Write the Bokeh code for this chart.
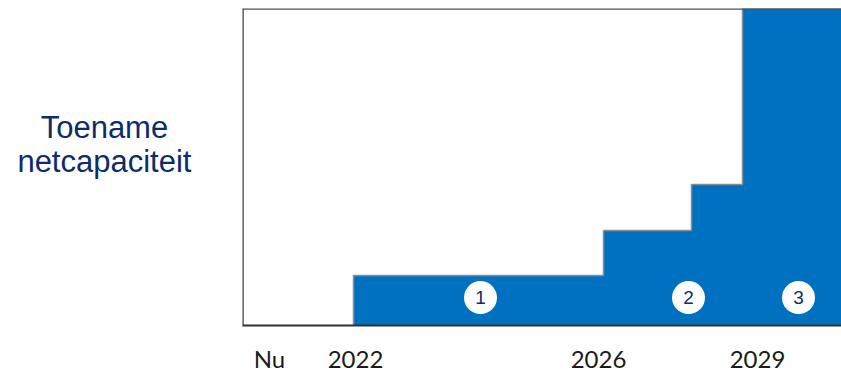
from bokeh.plotting import figure
from bokeh.layouts import row
from bokeh.models import Range1d, FixedTicker, Span
from bokeh.core.properties import value
from bokeh.embed import file_html
from bokeh.resources import INLINE

# Step edges (x, arbitrary time units) and capacity level (fraction of max)
step_x = [1.11, 3.61, 4.49, 5.00, 5.99]
step_level = [0.158, 0.30, 0.445, 1.0, 1.0]

# Numbered phase markers
marker_x = [2.38, 4.46, 5.56]
marker_y = [0.088, 0.088, 0.088]
marker_text = ["1", "2", "3"]

# X tick labels
tick_pos = [0.27, 1.13, 3.56, 5.15]
tick_labels = ["Nu", "2022", "2026", "2029"]

y_label_lines = ["Toename", "netcapaciteit"]

BLUE = "#0070C0"
NAVY = "#0D2C6C"

# ---- left panel with the horizontal y-axis title ----
left = figure(width=240, height=375, output_backend="svg", toolbar_location=None,
              x_range=Range1d(0, 1), y_range=Range1d(0, 1),
              x_axis_type=None, y_axis_type=None,
              min_border=0)
left.outline_line_color = None
left.grid.visible = False
left.text(x=[0.433, 0.433], y=[0.625, 0.518], text=y_label_lines,
          text_align="center", text_baseline="middle",
          text_font=value("Liberation Sans"), text_font_size="31px",
          text_color=NAVY)

# ---- main chart ----
p = figure(width=601, height=375, output_backend="svg", toolbar_location=None,
           x_range=Range1d(0, 5.99), y_range=Range1d(0, 1.0),
           min_border_left=2, min_border_right=0, min_border_top=8, min_border_bottom=0)
p.outline_line_color = None
p.grid.visible = False
p.yaxis.visible = False
p.background_fill_color = "white"

p.varea_step(x=step_x, y1=[0] * len(step_x), y2=step_level, step_mode="after",
             fill_color=BLUE)
p.step(x=[step_x[0]] + step_x, y=[0] + step_level, mode="after",
       line_color="#8c8c8c", line_width=1.5)

p.scatter(x=marker_x, y=marker_y, size=33, fill_color="white", line_color=None)
p.text(x=marker_x, y=marker_y, text=marker_text, text_align="center",
       text_baseline="middle", text_font=value("Liberation Sans"),
       text_font_size="19px", text_color=NAVY)

p.add_layout(Span(location=1.0, dimension="width", line_color="#505050", line_width=2.5))
p.add_layout(Span(location=0.0, dimension="height", line_color="#404040", line_width=2.5))

# x axis
p.xaxis.axis_line_color = "#303030"
p.xaxis.axis_line_width = 2
p.xaxis.major_tick_line_color = None
p.xaxis.minor_tick_line_color = None
p.xaxis.ticker = FixedTicker(ticks=tick_pos)
p.xaxis.major_label_overrides = {t: l for t, l in zip(tick_pos, tick_labels)}
p.xaxis.major_label_text_font = "Lato"
p.xaxis.major_label_text_font_size = "24px"
p.xaxis.major_label_text_color = "#1a1a1a"
p.xaxis.major_label_standoff = 12

layout = row(left, p)
open("out.html", "w").write(file_html(layout, INLINE))
